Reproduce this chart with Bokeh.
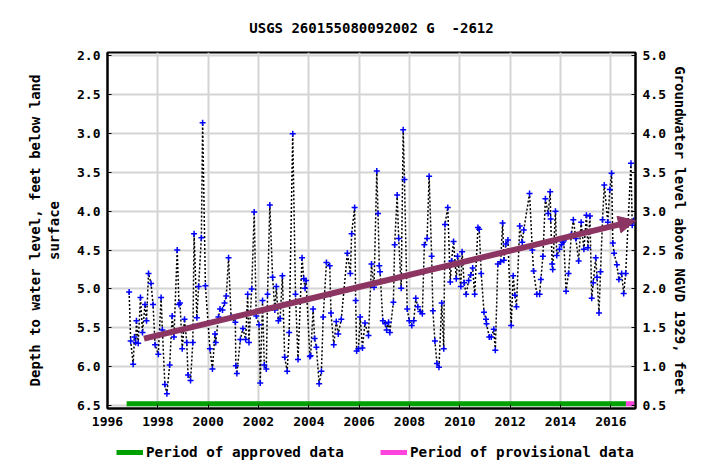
from bokeh.plotting import figure
from bokeh.layouts import column
from bokeh.models import (Range1d, LinearAxis, FixedTicker, NumeralTickFormatter,
                          Arrow, NormalHead, Legend, Label, ColumnDataSource)
from bokeh.embed import file_html
from bokeh.resources import INLINE

# ---- data ----
years = [1996.86, 1996.92, 1997.02, 1997.07, 1997.12, 1997.15, 1997.22, 1997.31, 1997.39, 1997.49,
         1997.55, 1997.63, 1997.73, 1997.81, 1997.89, 1998.02, 1998.13, 1998.18, 1998.28, 1998.36,
         1998.47, 1998.57, 1998.64, 1998.77, 1998.84, 1998.88, 1998.97, 1999.06, 1999.15, 1999.20,
         1999.30, 1999.39, 1999.44, 1999.55, 1999.62, 1999.73, 1999.78, 1999.89, 2000.07, 2000.17,
         2000.27, 2000.30, 2000.41, 2000.47, 2000.57, 2000.65, 2000.72, 2000.81, 2000.91, 2001.08,
         2001.10, 2001.14, 2001.28, 2001.38, 2001.49, 2001.57, 2001.62, 2001.73, 2001.83, 2001.91,
         2002.02, 2002.07, 2002.16, 2002.23, 2002.31, 2002.36, 2002.45, 2002.56, 2002.65, 2002.71,
         2002.79, 2002.86, 2002.95, 2003.04, 2003.14, 2003.22, 2003.36, 2003.47, 2003.57, 2003.73,
         2003.80, 2003.85, 2003.89, 2004.04, 2004.07, 2004.17, 2004.23, 2004.30, 2004.41, 2004.50,
         2004.57, 2004.70, 2004.83, 2004.88, 2004.99, 2005.09, 2005.17, 2005.29, 2005.53, 2005.65,
         2005.70, 2005.82, 2005.86, 2005.90, 2005.97, 2006.04, 2006.13, 2006.23, 2006.37, 2006.49,
         2006.59, 2006.70, 2006.75, 2006.80, 2006.83, 2006.94, 2007.04, 2007.09, 2007.17, 2007.22,
         2007.36, 2007.41, 2007.51, 2007.57, 2007.67, 2007.75, 2007.80, 2007.91, 2007.99, 2008.09,
         2008.17, 2008.25, 2008.33, 2008.43, 2008.51, 2008.59, 2008.70, 2008.78, 2008.88, 2008.93,
         2009.01, 2009.09, 2009.17, 2009.28, 2009.36, 2009.41, 2009.52, 2009.62, 2009.67, 2009.75,
         2009.86, 2009.91, 2010.04, 2010.09, 2010.17, 2010.25, 2010.35, 2010.43, 2010.51, 2010.59,
         2010.72, 2010.77, 2010.85, 2010.96, 2011.04, 2011.06, 2011.17, 2011.25, 2011.35, 2011.41,
         2011.51, 2011.62, 2011.70, 2011.75, 2011.83, 2011.91, 2012.04, 2012.12, 2012.19, 2012.25,
         2012.38, 2012.48, 2012.54, 2012.77, 2012.88, 2012.93, 2013.06, 2013.17, 2013.22, 2013.30,
         2013.40, 2013.51, 2013.59, 2013.61, 2013.67, 2013.69, 2013.80, 2013.85, 2013.96, 2014.04,
         2014.09, 2014.13, 2014.22, 2014.32, 2014.43, 2014.51, 2014.61, 2014.72, 2014.82, 2014.93,
         2015.03, 2015.09, 2015.17, 2015.24, 2015.30, 2015.40, 2015.45, 2015.53, 2015.59, 2015.67,
         2015.74, 2015.88, 2015.96, 2016.03, 2016.08, 2016.13, 2016.24, 2016.32, 2016.43, 2016.51,
         2016.59, 2016.80, 2016.85, 2016.91]
depth = [5.04, 5.67, 5.97, 5.62, 5.69, 5.41, 5.70, 5.11, 5.56, 5.20,
         5.41, 4.80, 4.93, 5.20, 5.72, 5.84, 5.11, 5.53, 6.23, 6.35,
         5.98, 5.35, 5.62, 4.50, 5.20, 5.18, 5.77, 5.39, 5.69, 6.11,
         6.18, 5.69, 4.29, 5.37, 4.97, 4.34, 2.86, 4.96, 5.77, 6.03,
         5.58, 5.69, 5.36, 5.26, 5.27, 5.18, 5.09, 4.60, 5.36, 5.43,
         5.99, 6.09, 5.65, 5.51, 5.65, 5.07, 5.69, 5.00, 4.01, 5.35,
         5.46, 6.21, 5.15, 5.98, 6.03, 5.07, 3.92, 4.85, 5.27, 4.97,
         5.41, 5.38, 4.83, 5.88, 6.06, 5.56, 3.00, 5.07, 5.91, 4.60,
         4.87, 4.99, 4.89, 5.87, 5.86, 5.26, 5.64, 5.75, 6.22, 6.06,
         5.36, 4.66, 4.70, 5.31, 5.72, 5.42, 5.58, 5.39, 4.54, 4.80,
         4.29, 3.95, 5.15, 5.80, 5.77, 5.36, 5.76, 5.44, 5.60, 4.68,
         4.98, 3.48, 4.03, 4.70, 4.78, 5.41, 5.45, 5.53, 5.43, 5.56,
         5.17, 4.43, 3.79, 4.35, 4.99, 2.95, 3.59, 5.26, 5.41, 5.47,
         5.41, 5.12, 5.23, 5.29, 5.32, 4.43, 4.35, 3.55, 4.58, 5.28,
         5.67, 5.96, 6.01, 5.18, 5.77, 4.17, 3.95, 4.91, 4.64, 4.39,
         4.87, 4.58, 4.97, 4.52, 4.92, 5.07, 4.89, 4.82, 4.73, 5.07,
         4.21, 4.23, 4.80, 5.30, 5.39, 5.45, 5.62, 5.62, 5.52, 5.79,
         4.68, 4.65, 4.15, 4.63, 4.42, 4.37, 5.47, 4.83, 5.08, 5.23,
         4.19, 4.40, 4.24, 3.77, 4.50, 4.77, 5.07, 5.07, 4.88, 4.58,
         3.84, 4.03, 3.75, 4.10, 4.68, 4.75, 4.00, 4.57, 4.49, 4.43,
         4.40, 4.38, 5.03, 4.80, 4.30, 4.11, 4.35, 4.64, 4.14, 4.49,
         4.05, 4.47, 4.06, 5.12, 4.92, 4.60, 4.85, 5.31, 4.78, 4.11,
         3.66, 4.14, 3.72, 3.51, 4.41, 4.54, 4.69, 4.88, 4.80, 5.06,
         4.80, 3.38, 4.18, 4.12]

trend_x = [1997.45, 2016.98]
trend_y = [5.64, 4.12]

approved_x = [1996.76, 2016.60]
provisional_x = [2016.60, 2016.93]
period_depth = [6.48, 6.48]

x_ticks = [1996, 1998, 2000, 2002, 2004, 2006, 2008, 2010, 2012, 2014, 2016]
left_ticks = [2.0, 2.5, 3.0, 3.5, 4.0, 4.5, 5.0, 5.5, 6.0, 6.5]
right_ticks = [0.5, 1.0, 1.5, 2.0, 2.5, 3.0, 3.5, 4.0, 4.5, 5.0]

TITLE = "USGS 260155080092002 G \u00a0-2612"
FONT = "DejaVu Sans Mono"
TREND = "#8c3462"
GREEN = "#00a000"
PINK = "#ff44dd"


def strip(height):
    f = figure(width=690, height=height, output_backend="svg", toolbar_location=None,
               x_range=Range1d(0, 1), y_range=Range1d(0, height),
               x_axis_type=None, y_axis_type=None,
               min_border_left=0, min_border_right=0, min_border_top=0, min_border_bottom=0)
    f.outline_line_color = None
    f.background_fill_color = "white"
    f.border_fill_color = "white"
    f.xgrid.visible = False
    f.ygrid.visible = False
    return f


# ---- title strip ----
top = strip(42)
top.add_layout(Label(x=0.5, y=15, text=TITLE, text_align="center", text_baseline="middle",
                     text_font=FONT, text_font_size="14px", text_font_style="bold",
                     text_color="black"))

# ---- main chart ----
p = figure(width=690, height=394, output_backend="svg", toolbar_location=None,
           x_range=Range1d(1996.0, 2016.98), y_range=Range1d(6.54, 1.955),
           min_border_left=107, min_border_right=51, min_border_top=10, min_border_bottom=28)
p.extra_y_ranges = {"elev": Range1d(7 - 6.54, 7 - 1.955)}

p.outline_line_color = "black"
p.outline_line_width = 2
p.background_fill_color = "white"
p.border_fill_color = "white"

p.xaxis.ticker = FixedTicker(ticks=x_ticks)
p.xaxis.formatter = NumeralTickFormatter(format="0")
p.yaxis.ticker = FixedTicker(ticks=left_ticks)
p.yaxis.formatter = NumeralTickFormatter(format="0.0")
p.yaxis.axis_label = "Depth to water level, feet below land\nsurface"

raxis = LinearAxis(y_range_name="elev", ticker=FixedTicker(ticks=right_ticks),
                   formatter=NumeralTickFormatter(format="0.0"),
                   axis_label="Groundwater level above NGVD 1929, feet")
p.add_layout(raxis, "right")

for ax in [p.xaxis[0], p.yaxis[0], raxis]:
    ax.major_label_text_font = FONT
    ax.major_label_text_font_size = "13px"
    ax.major_label_text_font_style = "bold"
    ax.major_label_text_color = "black"
    ax.axis_label_text_font = FONT
    ax.axis_label_text_font_size = "14px"
    ax.axis_label_text_font_style = "bold"
    ax.axis_label_text_color = "black"
    ax.axis_line_color = "black"
    ax.axis_line_width = 2
    ax.major_tick_in = 4
    ax.major_tick_out = 0
    ax.minor_tick_line_color = None
    ax.major_tick_line_color = "black"
    ax.major_label_standoff = 7
p.xaxis.major_label_standoff = 8
p.yaxis.axis_label_standoff = 12
raxis.major_label_standoff = 7
raxis.axis_label_standoff = 3

p.xgrid.ticker = FixedTicker(ticks=x_ticks)
p.ygrid.ticker = FixedTicker(ticks=left_ticks)
for g in [p.xgrid[0], p.ygrid[0]]:
    g.grid_line_color = "#d4d4d4"
    g.grid_line_width = 2

src = ColumnDataSource(dict(x=years, y=depth))
p.line("x", "y", source=src, line_color="black", line_width=1.5, line_dash="2 2")
p.scatter("x", "y", source=src, marker="cross", size=6, line_color="#0000ff", line_width=1.5)

p.line(approved_x, period_depth, line_color=GREEN, line_width=5)
p.line(provisional_x, period_depth, line_color=PINK, line_width=5)

arrow = Arrow(end=NormalHead(size=17, fill_color=TREND, line_color=TREND),
              x_start=trend_x[0], y_start=trend_y[0], x_end=trend_x[1], y_end=trend_y[1],
              line_color=TREND, line_width=6)
p.add_layout(arrow)

# ---- legend strip ----
leg = strip(24)
# renderers used only for the legend swatches (their data lie outside this strip's range)
g_r = leg.line(approved_x, period_depth, line_color=GREEN, line_width=5)
m_r = leg.line(provisional_x, period_depth, line_color=PINK, line_width=5)

legend = Legend(items=[("Period of approved data", [g_r]),
                       ("Period of provisional data", [m_r])],
                orientation="horizontal", location=(9, 0))
legend.label_text_font = FONT
legend.label_text_font_size = "14.3px"
legend.label_text_font_style = "bold"
legend.label_text_color = "black"
legend.border_line_color = None
legend.background_fill_alpha = 0
legend.glyph_width = 27
legend.glyph_height = 14
legend.label_height = 14
legend.spacing = 36
legend.label_standoff = 3
legend.margin = 0
legend.padding = 1
leg.add_layout(legend)

layout = column(top, p, leg, spacing=0)
open("out.html", "w").write(file_html(layout, INLINE))
